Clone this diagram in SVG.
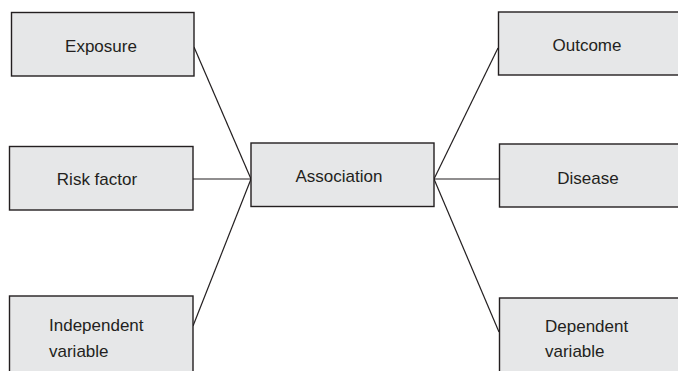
<svg xmlns="http://www.w3.org/2000/svg" width="678" height="371" viewBox="0 0 678 371">
<style>
.box{fill:#e6e7e8;stroke:#231f20;stroke-width:1.4}
.t{font-family:"Liberation Sans",Arial,sans-serif;font-size:17px;fill:#231f20}
.c{text-anchor:middle}
.ln{stroke:#231f20;stroke-width:1.2;fill:none}
</style>
<rect width="678" height="371" fill="#ffffff"/>
<g id="connectors">
<line class="ln" x1="194" y1="47" x2="251" y2="179"/>
<line class="ln" x1="193" y1="179" x2="251" y2="179"/>
<line class="ln" x1="193" y1="326" x2="251" y2="179"/>
<line class="ln" x1="498" y1="48" x2="434" y2="179"/>
<line class="ln" x1="434" y1="179" x2="499" y2="179"/>
<line class="ln" x1="499" y1="332" x2="434" y2="179"/>
</g>
<g id="exposure">
<rect class="box" x="11.5" y="12.5" width="182.5" height="63.5"/>
<text class="t c" x="101" y="52">Exposure</text>
</g>
<g id="riskfactor">
<rect class="box" x="9.5" y="146.5" width="183.5" height="63.5"/>
<text class="t c" x="97" y="185">Risk factor</text>
</g>
<g id="independent">
<rect class="box" x="9.5" y="296" width="183.5" height="90"/>
<text class="t" x="49" y="331">Independent</text>
<text class="t" x="49" y="357">variable</text>
</g>
<g id="association">
<rect class="box" x="251" y="143" width="183" height="63.5"/>
<text class="t c" x="339" y="182">Association</text>
</g>
<g id="outcome">
<rect class="box" x="498.5" y="12" width="190" height="63"/>
<text class="t c" x="587" y="51">Outcome</text>
</g>
<g id="disease">
<rect class="box" x="499.5" y="144" width="190" height="63"/>
<text class="t c" x="588" y="184">Disease</text>
</g>
<g id="dependent">
<rect class="box" x="499.5" y="298" width="190" height="90"/>
<text class="t" x="545" y="332">Dependent</text>
<text class="t" x="545" y="357">variable</text>
</g>
</svg>
